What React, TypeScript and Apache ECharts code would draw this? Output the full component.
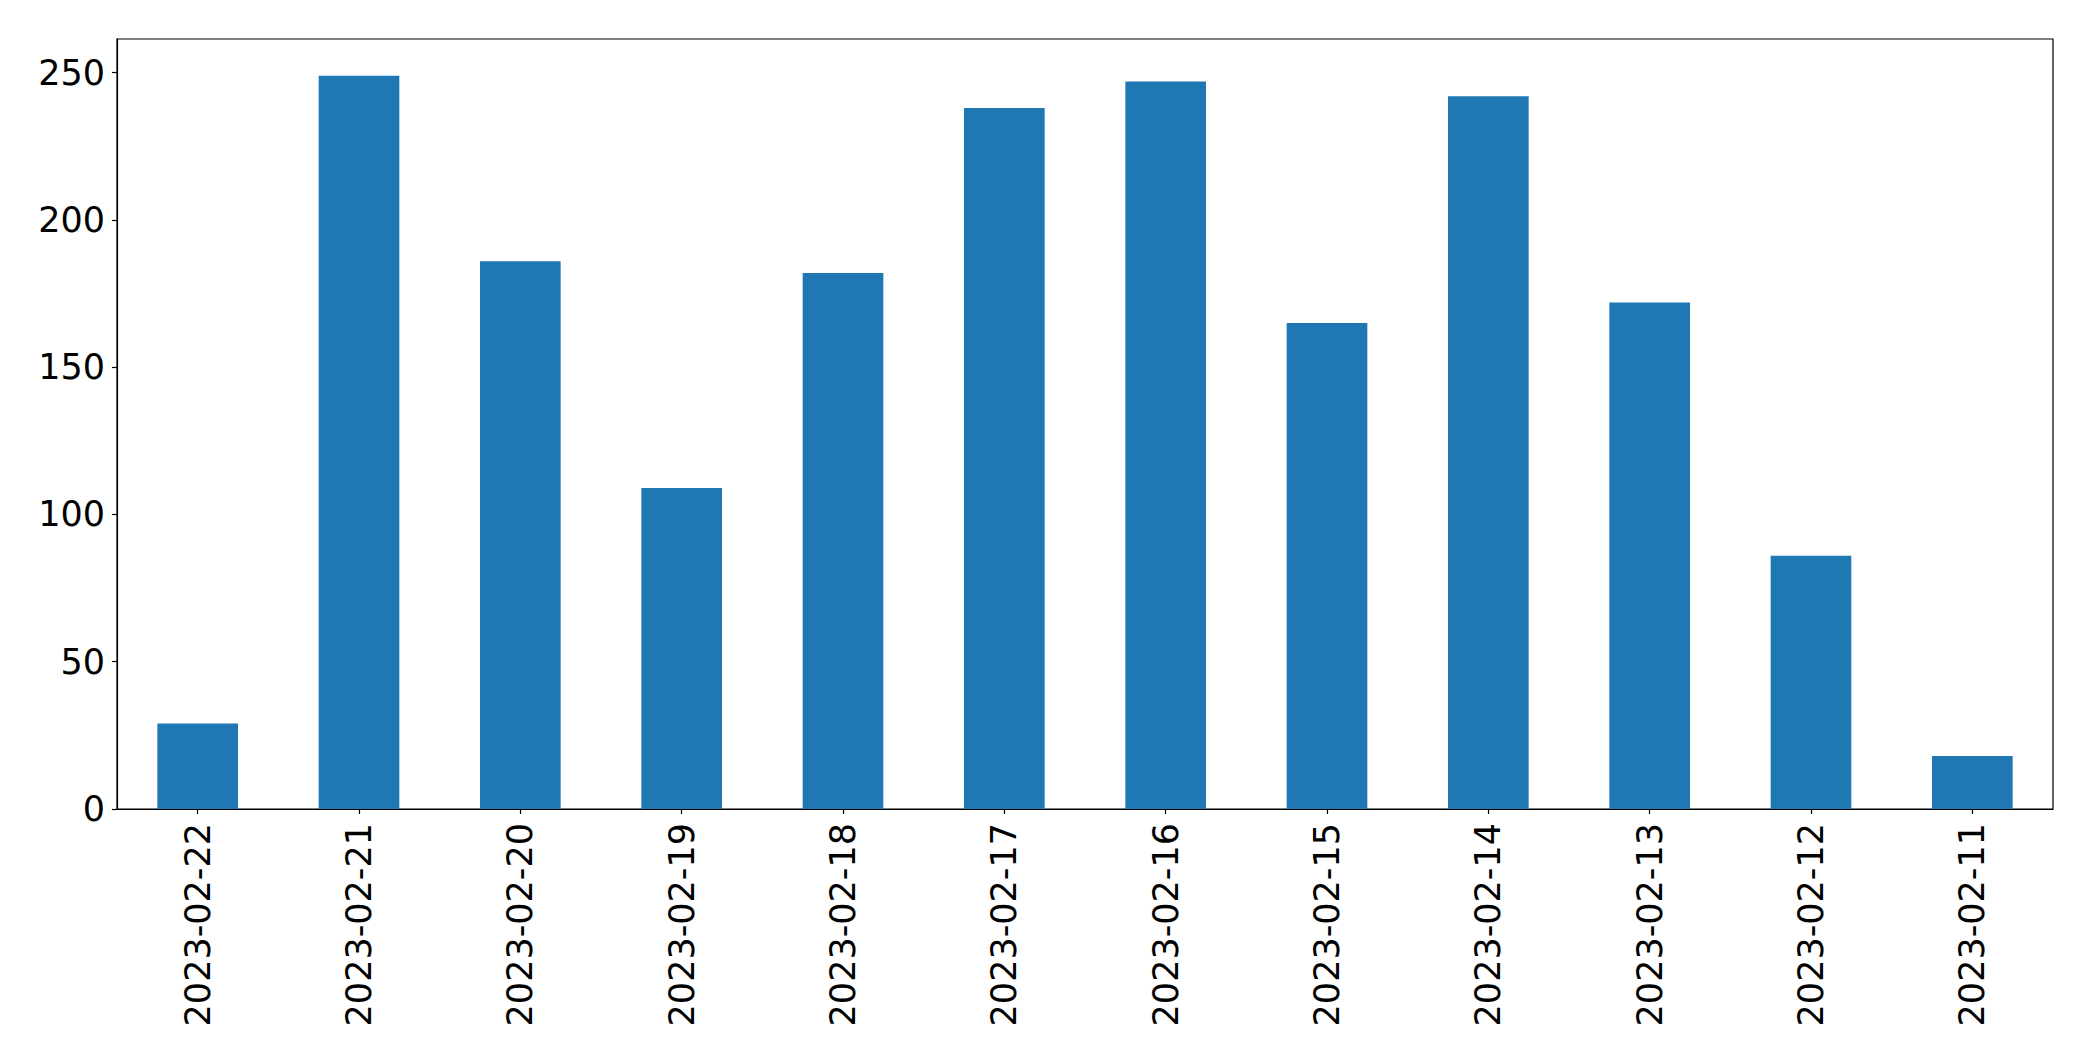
import React, { useEffect, useRef } from "react";
import * as echarts from "echarts";

const categories = [
  "2023-02-22", "2023-02-21", "2023-02-20", "2023-02-19", "2023-02-18", "2023-02-17",
  "2023-02-16", "2023-02-15", "2023-02-14", "2023-02-13", "2023-02-12", "2023-02-11",
];
const values = [29, 249, 186, 109, 182, 238, 247, 165, 242, 172, 86, 18];
const yTicks = [0, 50, 100, 150, 200, 250];

export default function App() {
  const ref = useRef<HTMLDivElement>(null);
  useEffect(() => {
    if (!ref.current) return;
    const chart = echarts.init(ref.current, null, { renderer: "svg" });
    const yMax = Math.max(...values) * 1.05;
    chart.setOption({
      animation: false,
      backgroundColor: "#ffffff",
      grid: {
        left: 117,
        right: 40,
        top: 39,
        bottom: 252,
        show: true,
        borderColor: "#000000",
        borderWidth: 1.2,
        containLabel: false,
      },
      xAxis: {
        type: "category",
        data: categories,
        boundaryGap: true,
        axisLine: { show: true, lineStyle: { color: "#000", width: 1.2 } },
        axisTick: { show: true, alignWithLabel: true, length: 5, lineStyle: { color: "#000", width: 1.2 } },
        axisLabel: {
          rotate: 90,
          margin: 14,
          color: "#000",
          fontSize: 35,
          fontFamily: "DejaVu Sans",
          interval: 0,
        },
        splitLine: { show: false },
      },
      yAxis: {
        type: "value",
        min: 0,
        max: yMax,
        interval: 50,
        axisLine: { show: true, lineStyle: { color: "#000", width: 1.2 } },
        axisTick: { show: true, length: 5, customValues: yTicks, lineStyle: { color: "#000", width: 1.2 } },
        axisLabel: {
          customValues: yTicks,
          margin: 12,
          color: "#000",
          fontSize: 35,
          fontFamily: "DejaVu Sans",
        },
        splitLine: { show: false },
      },
      series: [
        {
          type: "bar",
          data: values,
          barWidth: "50%",
          itemStyle: { color: "#1f77b4" },
        },
      ],
    });
    return () => chart.dispose();
  }, []);
  return (
    <div
      ref={ref}
      style={{ position: "fixed", left: 0, top: 0, width: 2093, height: 1061, background: "#fff" }}
    />
  );
}
